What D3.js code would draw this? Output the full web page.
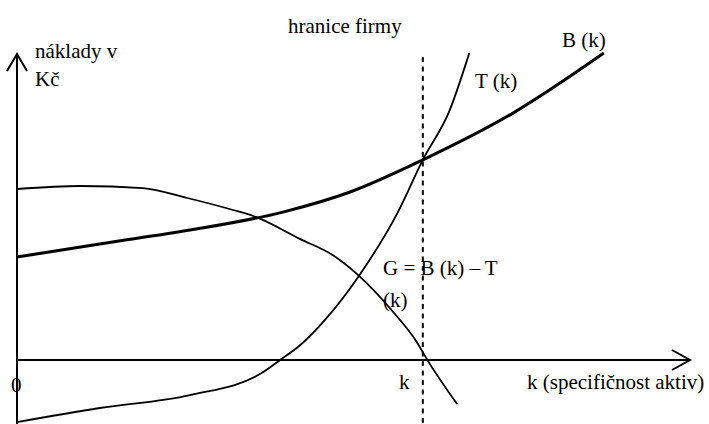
<!DOCTYPE html>
<html>
<head>
<meta charset="utf-8">
<script src="https://cdn.jsdelivr.net/npm/d3@7"></script>
<style>
  html, body { margin: 0; padding: 0; background: #fff; }
  svg { display: block; }
</style>
</head>
<body>
<svg id="chart" width="709" height="424"></svg>
<script>
// ---- data (abstract units: k on x, cost on y) ----
const bK = [0, 12.3, 25.7, 39.5, 49.5, 60.3, 73.7, 87.2];
const bCost = [34.3, 38.7, 43.3, 49.3, 56, 66.7, 82.3, 102.3];

const tK = [0, 12.3, 25.7, 36.1, 39.1, 42.1, 46.5, 50.7, 56.6, 60.3, 64.3, 67.2];
const tCost = [-20.7, -16, -11.7, -4.7, 0, 5, 15.3, 27.7, 49.3, 66.7, 83.3, 102.3];

const gK = [0, 9.4, 18.7, 25.3, 32.1, 35.1, 42.1, 46.9, 50.7, 55.9, 59.4, 60.9, 65.4];
const gCost = [57, 58, 57.3, 54, 50, 48, 40.3, 35, 28.3, 16, 6, 0.3, -14.7];

const kStar = 60.3;            // hranice firmy
const xAxisMax = 100;
const yAxisMax = 102;
const yAxisMin = -21.3;

const labels = {
  title: "hranice firmy",
  yLabel1: "náklady v",
  yLabel2: "Kč",
  xLabel: "k (specifičnost aktiv)",
  origin: "0",
  kTick: "k",
  b: "B (k)",
  t: "T (k)",
  g1: "G = B (k) – T",
  g2: "(k)"
};

// ---- scales ----
const x = d3.scaleLinear().domain([0, 100]).range([17, 690]);
const y = d3.scaleLinear().domain([0, 100]).range([360, 60]);

const svg = d3.select("#chart");

const line = d3.line().x(d => x(d[0])).y(d => y(d[1])).curve(d3.curveMonotoneX);

// axes
svg.append("line")
  .attr("x1", x(0)).attr("x2", x(0))
  .attr("y1", y(yAxisMin)).attr("y2", y(yAxisMax))
  .attr("stroke", "#000").attr("stroke-width", 2);
svg.append("path")
  .attr("d", `M${x(0)-10},${y(yAxisMax)+17} L${x(0)},${y(yAxisMax)} L${x(0)+10},${y(yAxisMax)+17}`)
  .attr("fill", "none").attr("stroke", "#000").attr("stroke-width", 2);

svg.append("line")
  .attr("x1", x(0)).attr("x2", x(xAxisMax))
  .attr("y1", y(0)).attr("y2", y(0))
  .attr("stroke", "#000").attr("stroke-width", 2);
svg.append("path")
  .attr("d", `M${x(xAxisMax)-18},${y(0)-10} L${x(xAxisMax)},${y(0)} L${x(xAxisMax)-18},${y(0)+10}`)
  .attr("fill", "none").attr("stroke", "#000").attr("stroke-width", 2);

// dashed boundary
svg.append("line")
  .attr("x1", x(kStar)).attr("x2", x(kStar))
  .attr("y1", y(101)).attr("y2", 424)
  .attr("stroke", "#000").attr("stroke-width", 2)
  .attr("stroke-dasharray", "5,4.5");

// curves
svg.append("path").datum(d3.zip(gK, gCost)).attr("d", line)
  .attr("fill", "none").attr("stroke", "#000").attr("stroke-width", 1.8);
svg.append("path").datum(d3.zip(tK, tCost)).attr("d", line)
  .attr("fill", "none").attr("stroke", "#000").attr("stroke-width", 1.8);
svg.append("path").datum(d3.zip(bK, bCost)).attr("d", line)
  .attr("fill", "none").attr("stroke", "#000").attr("stroke-width", 3);

// texts
const txt = (s, px, py) => svg.append("text")
  .attr("x", px).attr("y", py)
  .attr("font-family", "'Liberation Serif', 'DejaVu Serif', serif")
  .attr("font-size", 21)
  .attr("fill", "#000")
  .text(s);
txt(labels.title, 288, 33);
txt(labels.yLabel1, 35, 58);
txt(labels.yLabel2, 35, 86);
txt(labels.b, 562, 47);
txt(labels.t, 475, 88);
txt(labels.g1, 383, 275);
txt(labels.g2, 383, 307);
txt(labels.kTick, 399, 389);
txt(labels.xLabel, 527, 389);
txt(labels.origin, 11, 392);
</script>
</body>
</html>
